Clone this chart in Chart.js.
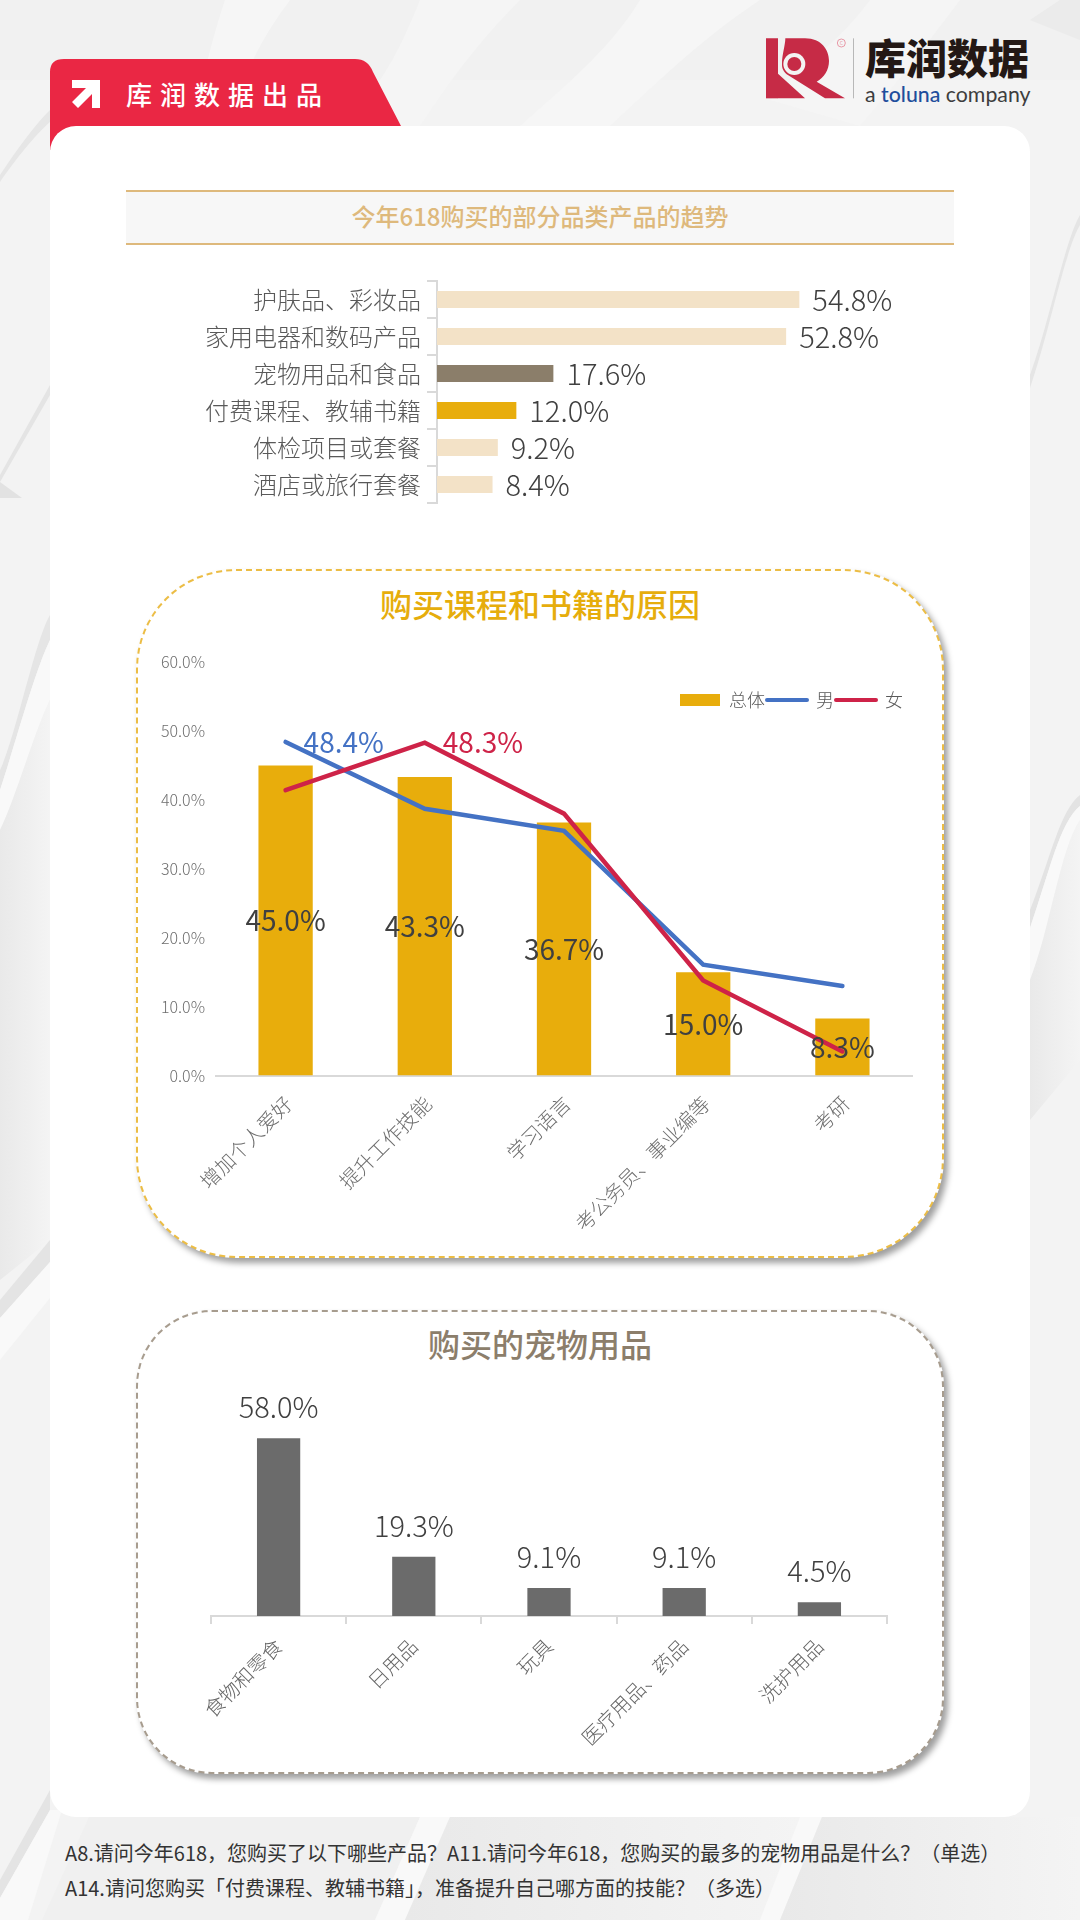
<!DOCTYPE html>
<html lang="zh-CN">
<head>
<meta charset="utf-8">
<title>今年618购买的部分品类产品的趋势</title>
<script src="https://cdn.jsdelivr.net/npm/chart.js@4"></script>
<style>
html,body{margin:0;padding:0;background:#f3f3f3}
#page{position:relative;width:1080px;height:1920px;overflow:hidden;font-family:"Noto Sans CJK SC","Noto Sans",sans-serif}
#page>*{position:absolute}
canvas{position:absolute}
.card{left:50px;top:126px;width:980px;height:1691px;background:#fff;border-radius:26px}
.strip{left:126px;top:190px;width:828px;height:51px;background:#f7f7f7;border-top:2px solid #deb97c;border-bottom:2px solid #deb97c;text-align:center;line-height:48px;font-size:24px;font-weight:500;color:#deb97c}
.panel{left:136px;width:808px;background:#fff;box-sizing:border-box;border-width:2px;border-style:dashed;box-shadow:4px 5px 6px rgba(0,0,0,.38)}
.ptitle{left:136px;width:808px;text-align:center;font-size:32px;font-weight:500;line-height:40px}
.tabtext{left:126px;top:76px;font-size:26px;font-weight:500;letter-spacing:8px;color:#fff;line-height:36px;white-space:nowrap}
.brand{left:865px;top:32px;font-size:41px;font-weight:900;color:#231815;line-height:48px;white-space:nowrap}
.sub{left:865px;top:79px;font-family:Lato,"Open Sans",sans-serif;font-size:21.3px;color:#3d3d3d;line-height:30px;white-space:nowrap}
.sub b{font-weight:500;color:#1f4e9c}
.foot{left:65px;font-size:20px;color:#333;line-height:28px;white-space:nowrap}
</style>
</head>
<body>
<div id="page">
<svg style="left:0;top:0" width="1080" height="1920" viewBox="0 0 1080 1920">
  <defs>
    <linearGradient id="sh" x1="0" y1="0" x2="1" y2="0"><stop offset="0" stop-color="#e9e9e9"/><stop offset="1" stop-color="#f4f4f4"/></linearGradient>
  </defs>
  <rect width="1080" height="1920" fill="#f3f3f3"/>
  <path d="M0 0H1080V80H0Z" fill="#f1f1f1"/>
  <path d="M225 0C205 60 200 100 190 126L230 126C240 80 260 40 290 0Z" fill="#f6f6f6"/>
  <path d="M420 0C400 50 380 90 340 126L420 126C450 80 480 40 520 0Z" fill="#f5f5f5"/>
  <path d="M640 0C610 50 560 90 520 126L610 126C660 80 700 40 760 0Z" fill="#f6f6f6"/>
  <path d="M870 0C840 40 810 60 770 100L860 126C900 80 930 40 960 0Z" fill="#f5f5f5"/>
  <path d="M1030 20L1060 0H1080V40Z" fill="#ebebeb"/>
  <path d="M0 175C20 145 35 125 50 110V122C35 135 15 160 0 182Z" fill="#e6e6e6"/>
  <path d="M0 475L50 385V395L0 482Z" fill="#e4e4e4"/>
  <path d="M0 482L22 498L0 498Z" fill="#e2e2e2"/>
  <path d="M0 770C15 740 35 640 50 615V640C35 670 15 745 0 790Z" fill="#e5e5e5"/>
  <path d="M0 790C15 745 35 670 50 640V700C35 730 15 800 0 830Z" fill="#f9f9f9"/>
  <path d="M0 830C15 800 35 730 50 700V1240L0 1280Z" fill="url(#sh)"/>
  <path d="M0 1300L50 1240V1262L0 1318Z" fill="#e4e4e4"/>
  <path d="M0 1318L50 1262V1298L0 1360Z" fill="#f9f9f9"/>
  <path d="M0 1880L50 1790V1810L0 1898Z" fill="#e4e4e4"/>
  <path d="M0 1898L50 1810H62L28 1920H0Z" fill="#f9f9f9"/>
  <path d="M1030 375C1050 320 1065 240 1080 215V225C1065 250 1050 330 1030 388Z" fill="#e5e5e5"/>
  <path d="M1030 910C1050 860 1060 810 1080 795V806C1060 822 1050 870 1030 928Z" fill="#e3e3e3"/>
  <path d="M1030 928C1050 870 1060 822 1080 806V820C1060 850 1050 930 1030 980Z" fill="#f9f9f9"/>
  <path d="M1030 980C1050 930 1060 850 1080 820V1060L1030 1120Z" fill="url(#sh)"/>
  <path d="M89 1817H420L375 1920H42Z" fill="#f0f0f0"/>
  <path d="M420 1817H450L405 1920H375Z" fill="#f9f9f9"/>
  <path d="M450 1817H800L760 1920H405Z" fill="url(#sh)"/>
  <path d="M800 1817H822L780 1920H760Z" fill="#f9f9f9"/>
  <path d="M822 1817H1080V1920H780Z" fill="url(#sh)"/>
  <path d="M50 150V72Q50 59 64 59H355Q368 59 373 72L401 126V150Z" fill="#ea2744"/>
  <path d="M72 80H100V108H92V94L78 108L72 102L86 88H72Z" fill="#fff"/>
  <svg x="750" y="25" width="300" height="90" viewBox="0 0 900 270">
    <path d="M48 40H84V146L165 220H84L48 184V220H48Z" fill="#c62b46"/>
    <rect x="48" y="180" width="36" height="40" fill="#c62b46"/>
    <path d="M106 40H165C215 40 237 75 237 108C237 135 222 158 200 170L285 220H225L110 148C96 135 96 125 96 117C96 90 106 60 106 40Z" fill="#c62b46"/>
    <circle cx="133" cy="117" r="33" fill="#f3f3f3"/>
    <circle cx="133" cy="117" r="21" fill="#c62b46"/>
    <circle cx="274" cy="54" r="12" fill="none" stroke="#e89aa8" stroke-width="3"/>
    <text x="274" y="60" text-anchor="middle" font-size="15" fill="#e89aa8">C</text>
    <rect x="309" y="40" width="2" height="180" fill="#9a9a9a"/>
  </svg>
</svg>
<div class="tabtext">库润数据出品</div>
<div class="brand">库润数据</div>
<div class="sub">a <b>toluna</b> company</div>
<div class="card"></div>
<div class="strip">今年618购买的部分品类产品的趋势</div>

<canvas id="c1" style="left:126px;top:270px" width="880" height="245"></canvas>

<div class="panel" style="top:569px;height:689px;border-radius:100px;border-color:#ecbd45"></div>
<div class="ptitle" style="top:583px;color:#e6ad0c">购买课程和书籍的原因</div>
<canvas id="c2" style="left:140px;top:640px" width="800" height="600"></canvas>

<div class="panel" style="top:1310px;height:464px;border-radius:76px;border-color:#a79c8e"></div>
<div class="ptitle" style="top:1323px;color:#8c7e6b">购买的宠物用品</div>
<canvas id="c3" style="left:140px;top:1370px" width="800" height="390"></canvas>

<div class="foot" style="top:1839px">A8.请问今年618，您购买了以下哪些产品？A11.请问今年618，您购买的最多的宠物用品是什么？（单选）</div>
<div class="foot" style="top:1874px">A14.请问您购买「付费课程、教辅书籍」，准备提升自己哪方面的技能？（多选）</div>
</div>

<script>
const trendCategories = ["护肤品、彩妆品","家用电器和数码产品","宠物用品和食品","付费课程、教辅书籍","体检项目或套餐","酒店或旅行套餐"];
const trendValues = [54.8,52.8,17.6,12.0,9.2,8.4];
const trendColors = ["#f3e2c7","#f3e2c7","#8b7e6a","#e8ad0c","#f3e2c7","#f3e2c7"];

const reasonCategories = ["增加个人爱好","提升工作技能","学习语言","考公务员、事业编等","考研"];
const reasonTotal = [45.0,43.3,36.7,15.0,8.3];
const reasonMale = [48.4,38.7,35.5,16.1,13.0];
const reasonFemale = [41.4,48.3,38.0,13.8,3.5];
const reasonTicks = [0,10,20,30,40,50,60];

const petCategories = ["食物和零食","日用品","玩具","医疗用品、药品","洗护用品"];
const petValues = [58.0,19.3,9.1,9.1,4.5];

const FAMILY = '"Noto Sans CJK SC","Noto Sans",sans-serif';
const pct = v => v.toFixed(1) + '%';

Chart.defaults.font.family = FAMILY;
Chart.defaults.animation = false;
Chart.defaults.responsive = false;

const valueLabels = {
  id:'valueLabels',
  afterDatasetsDraw(chart){
    const ctx = chart.ctx;
    ctx.save();
    chart.data.datasets.forEach((ds,di)=>{
      const rule = ds.valueLabel;
      if(!rule) return;
      ctx.font = (rule.weight||300)+' '+(rule.size||29)+'px '+FAMILY;
      const meta = chart.getDatasetMeta(di);
      meta.data.forEach((el,i)=>{
        if(rule.only !== undefined && rule.only !== i) return;
        const v = ds.data[i];
        ctx.fillStyle = rule.color;
        let x=el.x,y=el.y;
        if(rule.pos==='right'){ctx.textAlign='left';ctx.textBaseline='middle';x+=rule.gap;}
        else if(rule.pos==='center'){ctx.textAlign='center';ctx.textBaseline='middle';y=(el.y+el.base)/2;}
        else {ctx.textAlign='center';ctx.textBaseline='middle';y-=rule.gap;}
        ctx.fillText(pct(v),x,y);
      });
    });
    ctx.restore();
  }
};

/* Puts the library's legend inside the plot area, at the reference's corner. */
const legendInPlot = {
  id:'legendInPlot',
  beforeUpdate(chart){ if(chart.legend) chart.legend.isHorizontal = () => true; },
  afterLayout(chart){
    const l = chart.legend;
    l.top += 27; l.bottom += 27;
    l.right += 69;
  }
};

new Chart(document.getElementById('c1'),{
  type:'bar',
  data:{labels:trendCategories,datasets:[{data:trendValues,backgroundColor:trendColors,categoryPercentage:1,barPercentage:0.46,
    valueLabel:{pos:'right',gap:13,color:'#404040'}}]},
  options:{indexAxis:'y',layout:{padding:{top:11,bottom:12,right:40,left:0}},
    plugins:{legend:{display:false},tooltip:{enabled:false}},
    scales:{
      x:{display:false,min:0,max:80},
      y:{afterFit:s=>{s.width=311;s.paddingTop=0;s.paddingBottom=0},border:{color:'#d9d9d9',width:2},
        grid:{offset:true,drawOnChartArea:false,tickLength:10,color:'#d9d9d9',lineWidth:2},
        ticks:{padding:6,color:'#595959',font:{size:24,weight:300}}}
    }},
  plugins:[valueLabels]
});

new Chart(document.getElementById('c2'),{
  data:{labels:reasonCategories,datasets:[
    {type:'bar',label:'总体',data:reasonTotal,backgroundColor:'#e8ad0c',categoryPercentage:1,barPercentage:0.39,order:3,
      valueLabel:{pos:'center',color:'#404040',weight:400,size:28}},
    {type:'line',label:'男',data:reasonMale,borderColor:'#4472c4',backgroundColor:'#4472c4',borderWidth:4.5,pointRadius:0,borderCapStyle:'round',tension:0,order:2,
      valueLabel:{pos:'right',gap:18,color:'#4472c4',only:0,weight:400,size:28}},
    {type:'line',label:'女',data:reasonFemale,borderColor:'#ce2348',backgroundColor:'#ce2348',borderWidth:4.5,pointRadius:0,borderCapStyle:'round',tension:0,order:1,
      valueLabel:{pos:'right',gap:18,color:'#ce2348',only:1,weight:400,size:28}}
  ]},
  options:{layout:{padding:{top:22,right:28,left:0,bottom:0}},
    plugins:{tooltip:{enabled:false},
      legend:{position:'chartArea',align:'end',
        labels:{usePointStyle:true,pointStyleWidth:40,boxHeight:12,padding:2,color:'#595959',font:{size:18,weight:300},
          generateLabels(chart){
            return chart.data.datasets.map((d,i)=>({text:d.label,datasetIndex:i,fillStyle:d.backgroundColor,strokeStyle:d.type==='line'?d.borderColor:d.backgroundColor,
              lineWidth:d.type==='line'?4:0,lineCap:'round',pointStyle:d.type==='line'?'line':'rect',fontColor:'#595959'}));
          }}}},
    scales:{
      x:{afterFit:s=>{s.height=164.4},border:{color:'#d9d9d9',width:2},grid:{display:false},
        ticks:{maxRotation:45,minRotation:45,padding:8,labelOffset:3,color:'#6e6e6e',autoSkip:false,font:{size:20,weight:300}}},
      y:{min:0,max:60,afterFit:s=>{s.width=76},border:{display:false},grid:{display:false},
        afterBuildTicks:s=>{s.ticks=reasonTicks.map(v=>({value:v}))},
        ticks:{padding:3,color:'#6e6e6e',font:{size:16,weight:300},callback:v=>pct(v)}}
    }},
  plugins:[valueLabels,legendInPlot]
});

new Chart(document.getElementById('c3'),{
  type:'bar',
  data:{labels:petCategories,datasets:[{data:petValues,backgroundColor:'#6b6b6b',categoryPercentage:1,barPercentage:0.32,
    valueLabel:{pos:'top',gap:31,color:'#404040'}}]},
  options:{layout:{padding:{top:31.5,right:53,left:0,bottom:0}},
    plugins:{legend:{display:false},tooltip:{enabled:false}},
    scales:{
      x:{afterFit:s=>{s.height=144},border:{color:'#d9d9d9',width:2},
        grid:{offset:true,drawOnChartArea:false,tickLength:8,color:'#d9d9d9',lineWidth:2},
        ticks:{maxRotation:45,minRotation:45,padding:10,color:'#666',autoSkip:false,font:{size:20,weight:300}}},
      y:{display:false,min:0,max:70,afterFit:s=>{s.width=71}}
    }},
  plugins:[valueLabels]
});
</script>
</body>
</html>
